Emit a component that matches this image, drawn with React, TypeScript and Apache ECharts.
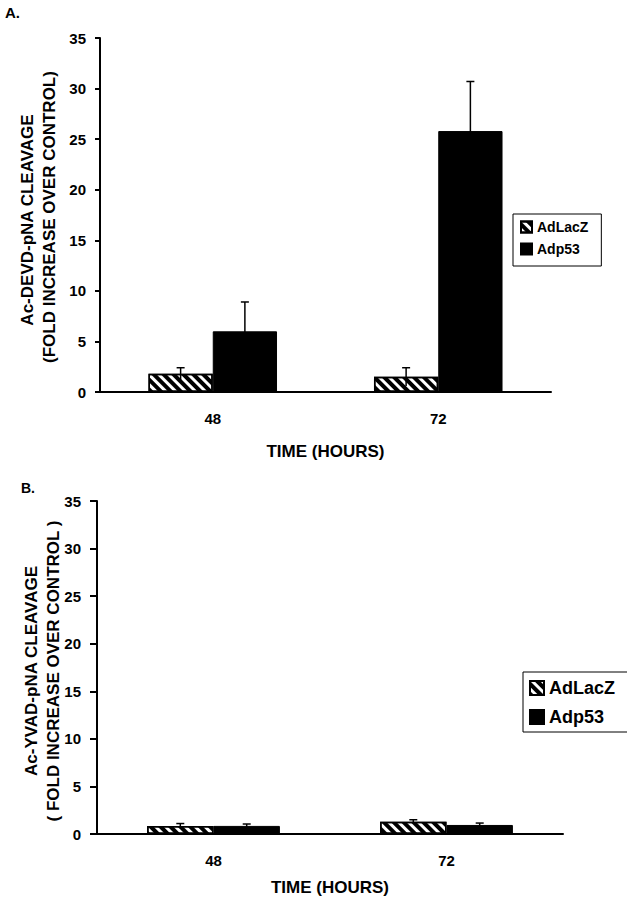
import React, { useEffect, useRef } from "react";
import * as echarts from "echarts";

const categories = ["48", "72"];
const seriesNames = ["AdLacZ", "Adp53"];

// Panel A: Ac-DEVD-pNA cleavage
const aLacZ = [1.8, 1.5];
const aLacZErr = [0.6, 0.9];
const aP53 = [6.0, 25.8];
const aP53Err = [2.9, 4.9];

// Panel B: Ac-YVAD-pNA cleavage
const bLacZ = [0.85, 1.3];
const bLacZErr = [0.25, 0.2];
const bP53 = [0.85, 0.95];
const bP53Err = [0.2, 0.2];

const yTicks = { min: 0, max: 35, interval: 5 };

const FONT = "'Liberation Sans', Arial, sans-serif";
const GAP = 0.43;

function barSeries(idx: number, name: string, data: number[], hatched: boolean) {
  return {
    type: "bar",
    name,
    xAxisIndex: idx,
    yAxisIndex: idx,
    data,
    barGap: "0%",
    barCategoryGap: GAP * 100 + "%",
    itemStyle: hatched
      ? {
          color: "#fff",
          borderColor: "#000",
          borderWidth: 1.5,
          decal: {
            symbol: "rect",
            symbolSize: 1,
            color: "#000",
            dashArrayX: [1, 0],
            dashArrayY: [3.2, 2.8],
            rotation: Math.PI / 4,
          },
        }
      : { color: "#000", borderColor: "#000", borderWidth: 1 },
  };
}

function errSeries(idx: number, vals: number[], errs: number[], side: number) {
  return {
    type: "custom",
    xAxisIndex: idx,
    yAxisIndex: idx,
    z: 10,
    data: vals.map((v, i) => [i, v, errs[i]]),
    encode: { x: 0, y: 1 },
    renderItem: (_params: any, api: any) => {
      const i = api.value(0);
      const v = api.value(1);
      const e = api.value(2);
      const band = api.size([1, 0])[0];
      const bw = (band * (1 - GAP)) / 2;
      const top = api.coord([i, v + e]);
      const bot = api.coord([i, v - e]);
      const x = top[0] + (side * bw) / 2;
      return {
        type: "group",
        children: [
          {
            type: "line",
            shape: { x1: x, y1: bot[1], x2: x, y2: top[1] },
            style: { stroke: "#000", lineWidth: 1.5 },
          },
          {
            type: "line",
            shape: { x1: x - 4, y1: top[1], x2: x + 4, y2: top[1] },
            style: { stroke: "#000", lineWidth: 1.5 },
          },
        ],
      };
    },
  };
}

function xAxis(idx: number, nameGap: number) {
  return {
    type: "category",
    gridIndex: idx,
    data: categories,
    axisLine: { lineStyle: { color: "#000", width: 2 } },
    axisTick: { show: false },
    axisLabel: { color: "#000", fontWeight: "bold", fontSize: 15, margin: 19, fontFamily: FONT },
    name: "TIME (HOURS)",
    nameLocation: "middle",
    nameGap,
    nameTextStyle: { color: "#000", fontWeight: "bold", fontSize: 17, fontFamily: FONT },
  };
}

function yAxis(idx: number, margin: number, tickLen: number) {
  return {
    type: "value",
    gridIndex: idx,
    min: yTicks.min,
    max: yTicks.max,
    interval: yTicks.interval,
    splitLine: { show: false },
    axisLine: { show: true, lineStyle: { color: "#000", width: 2 } },
    axisTick: { show: true, length: tickLen, lineStyle: { color: "#000", width: 2 } },
    axisLabel: { color: "#000", fontWeight: "bold", fontSize: 15, margin, fontFamily: FONT },
  };
}

function legend(left: number, top: number, size: number, font: number, gap: number, pad: number[]) {
  return {
    data: seriesNames,
    left,
    top,
    orient: "vertical",
    icon: "rect",
    itemWidth: size,
    itemHeight: size,
    itemGap: gap,
    padding: pad,
    selectedMode: false,
    borderColor: "#000",
    borderWidth: 1,
    borderRadius: 0,
    backgroundColor: "#fff",
    textStyle: { color: "#000", fontWeight: "bold", fontSize: font, fontFamily: FONT },
  };
}

function vText(text: string, x: number, y: number, size: number) {
  return {
    type: "text",
    x,
    y,
    rotation: Math.PI / 2,
    style: {
      text,
      fill: "#000",
      font: `bold ${size}px ${FONT}`,
      textAlign: "center",
      textVerticalAlign: "middle",
    },
  };
}

export default function App() {
  const ref = useRef<HTMLDivElement>(null);
  useEffect(() => {
    if (!ref.current) return;
    const chart = echarts.init(ref.current, undefined, { renderer: "svg" });
    chart.setOption({
      animation: false,
      backgroundColor: "#fff",
      textStyle: { fontFamily: FONT },
      grid: [
        { left: 100, right: 76, top: 38, bottom: 507 },
        { left: 97, right: 64, top: 501, bottom: 65 },
      ],
      xAxis: [xAxis(0, 51), xAxis(1, 45)],
      yAxis: [yAxis(0, 14, 5), yAxis(1, 16, 7)],
      legend: [
        legend(513, 214, 11, 14, 8, [6, 13, 10, 7]),
        legend(523, 672, 14, 18, 11, [7, 13, 6, 6]),
      ],
      series: [
        barSeries(0, seriesNames[0], aLacZ, true),
        barSeries(0, seriesNames[1], aP53, false),
        errSeries(0, aLacZ, aLacZErr, -1),
        errSeries(0, aP53, aP53Err, 1),
        barSeries(1, seriesNames[0], bLacZ, true),
        barSeries(1, seriesNames[1], bP53, false),
        errSeries(1, bLacZ, bLacZErr, -1),
        errSeries(1, bP53, bP53Err, 1),
      ],
      graphic: [
        {
          type: "text",
          x: 5,
          y: 12,
          style: { text: "A.", fill: "#000", font: `bold 15px ${FONT}`, textVerticalAlign: "middle" },
        },
        {
          type: "text",
          x: 21,
          y: 488,
          style: { text: "B.", fill: "#000", font: `bold 14px ${FONT}`, textVerticalAlign: "middle" },
        },
        vText("Ac-DEVD-pNA CLEAVAGE", 27, 220, 17),
        vText("(FOLD INCREASE OVER CONTROL)", 49, 217, 17),
        vText("Ac-YVAD-pNA CLEAVAGE", 31, 671, 17),
        vText("( FOLD INCREASE OVER CONTROL )", 53, 671, 17),
      ],
    });
    return () => chart.dispose();
  }, []);
  return (
    <div
      ref={ref}
      style={{ position: "absolute", left: 0, top: 0, width: 627, height: 899 }}
    />
  );
}
